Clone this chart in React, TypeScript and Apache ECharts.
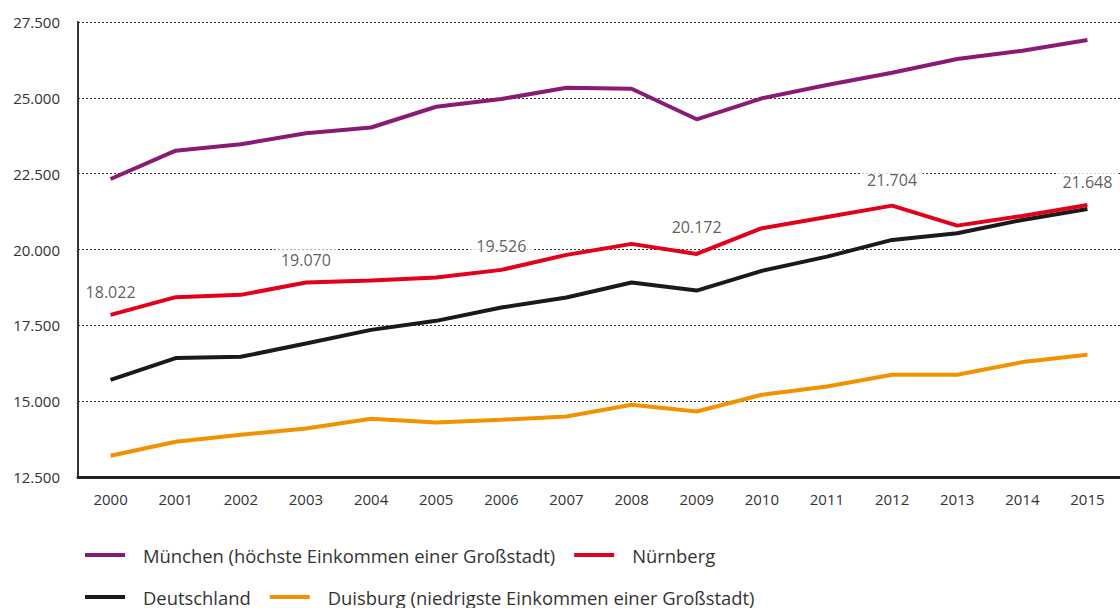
import React, { useEffect, useRef } from "react";
import * as echarts from "echarts";

const years = ["2000", "2001", "2002", "2003", "2004", "2005", "2006", "2007", "2008", "2009", "2010", "2011", "2012", "2013", "2014", "2015"];

const muenchen = [22325, 23258, 23468, 23831, 24022, 24707, 24961, 25333, 25300, 24292, 24984, 25422, 25827, 26278, 26551, 26904];
const nuernberg = [17846, 18429, 18505, 18910, 18976, 19074, 19328, 19822, 20185, 19855, 20702, 21074, 21446, 20787, 21107, 21469];
const deutschland = [15705, 16420, 16462, 16900, 17350, 17648, 18086, 18416, 18910, 18646, 19295, 19766, 20316, 20537, 20975, 21337];
const duisburg = [13202, 13663, 13893, 14101, 14420, 14298, 14387, 14496, 14881, 14661, 15211, 15484, 15870, 15870, 16288, 16528];

const nuernbergLabels = [18022, null, null, 19070, null, null, 19526, null, null, 20172, null, null, 21704, null, null, 21648];

const names = [
  "München (höchste Einkommen einer Großstadt)",
  "Nürnberg",
  "Deutschland",
  "Duisburg (niedrigste Einkommen einer Großstadt)",
];
const colors = ["#8A1B74", "#E2001A", "#1A1A1A", "#F39200"];

const yTicks = { min: 12500, max: 27500, interval: 2500 };

const FONT = "'Open Sans', 'Noto Sans', sans-serif";
const TEXT = "#333333";

const fmt = (v: number) => String(Math.round(v)).replace(/\B(?=(\d{3})+(?!\d))/g, ".");

export default function App() {
  const ref = useRef<HTMLDivElement>(null);
  useEffect(() => {
    if (!ref.current) return;
    const chart = echarts.init(ref.current, undefined, { renderer: "svg" });
    const seriesData = [muenchen, nuernberg, deutschland, duisburg];
    const legendBase = {
      left: 80,
      itemWidth: 40,
      itemHeight: 4,
      itemGap: 19,
      icon: "rect",
      selectedMode: false,
      textStyle: { fontSize: 18.4, color: TEXT, fontFamily: FONT, padding: [0, 0, 0, 13] },
    };
    chart.setOption({
      animation: false,
      backgroundColor: "#ffffff",
      grid: { left: 78, right: 0, top: 22, bottom: 131, containLabel: false },
      legend: [
        { ...legendBase, top: 541, data: [names[0], names[1]] },
        { ...legendBase, top: 583, data: [names[2], names[3]] },
      ],
      xAxis: {
        type: "category",
        data: years,
        boundaryGap: true,
        axisLine: { show: true, lineStyle: { color: "#222", width: 3 } },
        axisTick: { show: false },
        axisLabel: { color: TEXT, fontSize: 15, fontFamily: FONT, margin: 14 },
        splitLine: { show: false },
      },
      yAxis: {
        type: "value",
        min: yTicks.min,
        max: yTicks.max,
        interval: yTicks.interval,
        axisLine: { show: true, lineStyle: { color: "#333", width: 2 } },
        axisTick: { show: false },
        axisLabel: { color: TEXT, fontSize: 15, fontFamily: FONT, margin: 18, formatter: (v: number) => fmt(v) },
        splitLine: { show: true, lineStyle: { color: "#333", width: 1, type: [2, 2] } },
      },
      series: [
        ...seriesData.map((d, i) => ({
          name: names[i],
          type: "line",
          data: d,
          symbol: "none",
          lineStyle: { color: colors[i], width: 4 },
          itemStyle: { color: colors[i] },
          z: 3 + (i === 1 ? 1 : 0),
        })),
        {
          name: "labels",
          type: "scatter",
          data: nuernbergLabels,
          symbolSize: 1,
          itemStyle: { color: "rgba(0,0,0,0)" },
          silent: true,
          z: 5,
          label: {
            show: true,
            position: "top",
            distance: 8,
            formatter: (p: any) => fmt(p.value),
            color: TEXT,
            fontSize: 16,
            fontFamily: FONT,
            backgroundColor: "#ffffff",
            padding: [3, 6, 1, 6],
          },
        },
      ],
    });
    return () => chart.dispose();
  }, []);
  return <div ref={ref} style={{ position: "absolute", left: 0, top: 0, width: 1120, height: 608 }} />;
}
